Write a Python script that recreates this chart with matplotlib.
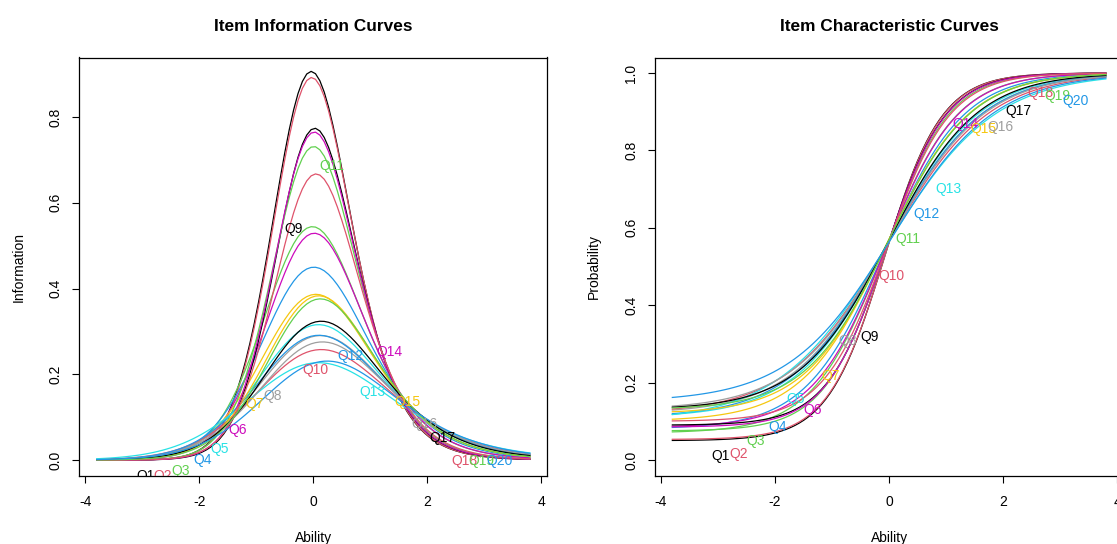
import numpy as np
import matplotlib
matplotlib.use("Agg")
import matplotlib.pyplot as plt

plt.rcParams['font.family'] = ['Liberation Sans', 'DejaVu Sans']

# 3PL item parameters (peak information, lower tails, label points)
items = ['Q1', 'Q2', 'Q3', 'Q4', 'Q5', 'Q6', 'Q7', 'Q8', 'Q9', 'Q10',
         'Q11', 'Q12', 'Q13', 'Q14', 'Q15', 'Q16', 'Q17', 'Q18', 'Q19', 'Q20']
discrimination = [2.00, 1.99, 1.58, 1.45, 1.25, 1.58, 1.37, 1.21, 1.92, 1.14,
                  1.84, 1.20, 1.05, 1.90, 1.39, 1.19, 1.29, 1.80, 1.39, 1.11]
difficulty = [-0.080, -0.075, -0.090, -0.080, -0.046, -0.070, -0.068, -0.025, -0.050, -0.020,
              -0.060, -0.044, -0.058, -0.055, -0.035, -0.003, -0.011, -0.040, -0.017, 0.049]
guessing = [0.050, 0.053, 0.070, 0.080, 0.110, 0.085, 0.100, 0.120, 0.090, 0.120,
            0.075, 0.110, 0.100, 0.085, 0.120, 0.130, 0.130, 0.100, 0.130, 0.150]

# R default palette, recycled over the items
r_palette = ['#000000', '#DF536B', '#61D04F', '#2297E6',
             '#28E2E5', '#CD0BBC', '#F5C710', '#9E9E9E']

theta = np.linspace(-3.8, 3.8, 100)
a = np.array(discrimination)[None, :]
b = np.array(difficulty)[None, :]
c = np.array(guessing)[None, :]
z = theta[:, None]
logit = 1 / (1 + np.exp(-a * (z - b)))
prob = c + (1 - c) * logit
info = a**2 * ((1 - prob) / prob) * ((prob - c) / (1 - c))**2

# label positions like ltm: round(seq(10, 90, length = n))
pos = np.round(np.linspace(10, 90, len(items))).astype(int) - 1

W, H = 1117, 544
fig = plt.figure(figsize=(W / 100, H / 100), dpi=100)
bottom, top = 475.5, 57.5
ax1 = fig.add_axes([79.4 / W, (H - bottom) / H, (547.2 - 79.4) / W, (bottom - top) / H])
ax2 = fig.add_axes([655 / W, (H - bottom) / H, 468.2 / W, (bottom - top) / H])

def draw(ax, vals, title, ylab, ylim, yticks, left_px, right_px):
    for i, name in enumerate(items):
        col = r_palette[i % len(r_palette)]
        ax.plot(theta, vals[:, i], color=col, lw=0.9)
        k = pos[i]
        ax.annotate(name, (theta[k], vals[k, i]), xytext=(0, -6.5),
                    textcoords='offset points', ha='left', va='top',
                    color=col, fontsize=10, annotation_clip=False, clip_on=True)
    ax.set_xlim(-4.104, 4.104)
    ax.set_ylim(*ylim)
    ax.set_xticks([-4, -2, 0, 2, 4])
    ax.set_xticklabels(['-4', '-2', '0', '2', '4'])
    ax.set_yticks(yticks)
    ax.set_yticklabels([f'{v:.1f}' for v in yticks])
    ax.tick_params(direction='out', length=5, width=0.8, labelsize=10)
    ax.tick_params(axis='x', pad=9)
    ax.tick_params(axis='y', pad=7)
    for lab in ax.get_yticklabels():
        lab.set_rotation(90)
        lab.set_va('center')
    for s in ax.spines.values():
        s.set_linewidth(0.9)
    ax.set_title(title, fontsize=12.4, fontweight='bold', pad=19)
    mid_x = (left_px + right_px) / 2
    fig.text(min(mid_x, 889.5) / W, (H - 538) / H, 'Ability', fontsize=10,
             ha='center', va='center')
    fig.text((left_px - 61) / W, (H - (top + bottom) / 2) / H, ylab, fontsize=10,
             ha='center', va='center', rotation=90)

draw(ax1, info, 'Item Information Curves', 'Information',
     (-0.036, 0.939), [0.0, 0.2, 0.4, 0.6, 0.8], 79.4, 547.2)
draw(ax2, prob, 'Item Characteristic Curves', 'Probability',
     (-0.04, 1.04), [0.0, 0.2, 0.4, 0.6, 0.8, 1.0], 655, 1123.2)

fig.savefig('out.png', dpi=100)
